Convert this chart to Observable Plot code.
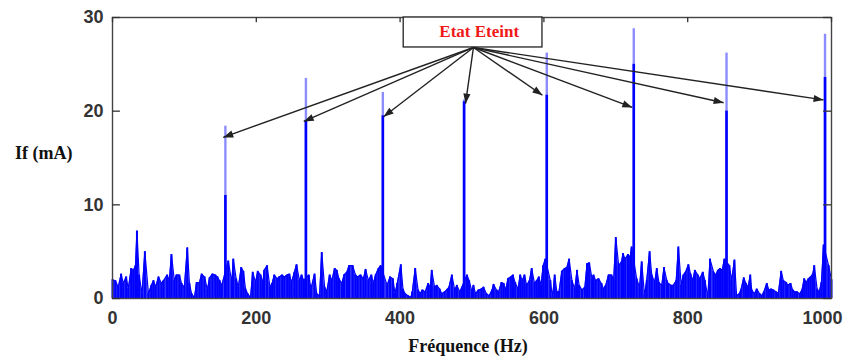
<!DOCTYPE html>
<html>
<head>
<meta charset="utf-8">
<script src="https://cdn.jsdelivr.net/npm/d3@7"></script>
<script src="https://cdn.jsdelivr.net/npm/@observablehq/plot@0.6"></script>
<style>
  html, body { margin: 0; padding: 0; background: #fff; }
  #chart svg { display: block; }
</style>
</head>
<body>
<div id="chart"></div>
<script>
// ---- Data ----
// Background spectrum (frequency in Hz, amplitude in mA)
const noiseFreq = [0,4,8,12,15,19,22,26,29,32,34,37,41,45,50,54,57,60,64,68,71,76,79,82,86,89,93,96,100,104,107,110,114,117,121,124,128,132,135,139,143,146,149,152,161,166,168,172,175,179,182,185,188,192,195,199,202,206,209,211,215,219,222,225,229,232,236,239,243,246,249,253,256,260,263,266,273,276,281,284,288,291,295,298,302,305,309,312,315,319,322,326,329,334,338,341,345,349,352,356,360,363,366,370,373,382,386,390,393,396,401,404,407,411,415,417,421,425,428,431,435,439,442,444,448,451,455,458,462,466,468,472,476,479,483,486,493,496,500,502,505,509,513,516,520,524,528,530,534,537,541,544,547,550,554,557,560,564,567,570,573,576,580,583,587,590,593,596,599,602,609,612,615,618,621,625,629,632,635,639,643,646,649,653,657,660,663,667,669,672,676,680,683,686,690,694,697,700,704,708,710,713,717,720,722,729,733,736,740,743,747,750,754,757,760,764,767,771,773,777,780,784,787,791,794,797,801,804,807,810,814,817,821,824,828,831,836,839,842,845,848,851,858,861,865,868,872,874,878,881,884,887,889,893,896,900,903,906,910,913,916,919,923,926,930,933,937,939,943,946,949,952,956,959,962,965,968,971,974,976,980,983,986,989,996,1000];
const noiseAmp  = [2.0,1.9,1.2,2.6,1.6,2.3,1.0,3.2,3.0,3.5,7.2,2.5,0.5,5.0,0.5,1.4,1.9,1.2,2.3,1.6,1.9,2.5,1.9,4.7,1.9,2.5,2.5,1.6,1.2,5.4,1.6,0.5,0.1,1.7,1.7,2.6,2.3,0.9,2.2,2.6,2.5,2.3,1.9,1.4,4.0,1.7,4.2,2.1,1.2,3.3,2.9,1.0,0.5,0.1,2.8,1.7,2.9,2.5,1.6,3.0,3.5,1.2,1.6,2.5,2.1,2.3,2.5,2.3,2.5,2.6,1.7,2.8,3.6,1.9,2.5,1.9,2.5,1.0,2.6,0.5,0.3,4.9,1.2,0.7,2.5,1.9,3.2,3.0,2.1,1.6,2.5,2.8,3.5,3.5,2.5,2.3,2.5,2.1,3.1,1.9,2.5,1.6,2.5,3.2,3.5,1.4,2.3,2.1,0.5,1.6,3.6,1.0,0.5,0.3,0.1,0.7,3.2,0.9,0.5,0.9,0.7,1.6,1.2,3.0,1.2,1.4,1.0,0.5,0.7,1.0,1.2,2.5,0.9,1.4,0.7,1.2,2.5,1.9,0.7,1.4,0.5,0.9,1.0,1.2,0.5,0.3,0.9,1.5,0.9,0.7,1.7,1.6,0.9,2.1,2.3,2.5,1.7,1.0,2.5,1.9,2.5,1.4,1.9,3.2,1.6,1.9,2.3,1.4,3.5,4.2,1.9,0.1,2.5,0.7,0.7,2.9,3.2,3.3,4.2,1.9,1.0,3.0,1.4,0.9,1.2,3.7,3.8,2.1,2.5,1.9,2.1,1.6,1.0,1.4,2.5,2.5,1.9,6.5,3.5,3.9,4.8,4.2,4.7,4.4,5.5,2.1,1.2,3.9,0.3,1.9,5.0,2.5,1.7,3.2,1.7,1.4,3.3,1.9,1.6,1.4,1.4,1.9,5.5,1.4,2.5,2.8,3.6,2.6,1.9,3.0,2.5,2.1,2.8,1.9,0.1,4.2,2.8,2.5,3.0,3.2,3.0,4.2,3.5,1.9,4.1,0.3,0.5,0.9,2.2,1.6,1.2,2.5,0.9,0.5,1.0,0.5,0.3,0.7,1.6,0.9,1.0,0.9,0.7,0.5,2.9,1.9,1.7,1.4,1.6,0.9,0.7,0.7,0.5,0.9,2.1,1.7,2.1,2.3,2.6,3.5,1.0,0.7,1.7,5.7,3.5,2.0];

// Harmonic peaks (frequency, maximum, dense core height)
const peakFreq = [157, 269, 376, 489, 604, 725, 854, 991];
const peakMax  = [18.4, 23.5, 22.0, 21.2, 26.2, 28.8, 26.2, 28.2];
const peakCore = [11.0, 19.0, 19.5, 21.0, 21.7, 25.0, 20.0, 23.6];

// Annotation "Etat Eteint": arrow tips and origin, label box
const arrowTipFreq = [154, 266, 377, 491, 598, 723, 850, 989];
const arrowTipAmp  = [17.2, 18.9, 19.4, 20.8, 21.7, 20.4, 20.9, 21.2];
const arrowOrigin  = [502, 26.8];
const boxFreq = [405, 598];
const boxAmp  = [26.8, 30];
const boxLabel = "Etat Eteint";
const boxLabelPos = [510, 28.5];

// Axes
const xTicks = [0, 200, 400, 600, 800, 1000];
const yTicks = [0, 10, 20, 30];
const xDomain = [0, 1000];
const yDomain = [0, 30];
const xTitle = "Fréquence (Hz)";
const yTitle = "If (mA)";

// ---- Build tables ----
const noise = noiseFreq.map((f, i) => ({f, a: noiseAmp[i]}));
const peaks = peakFreq.map((f, i) => ({f, max: peakMax[i], core: peakCore[i]}));
const arrows = arrowTipFreq.map((f, i) => ({x1: arrowOrigin[0], y1: arrowOrigin[1], x2: f, y2: arrowTipAmp[i]}));

const dims = {
  width: 845, height: 362,
  marginTop: 17, marginBottom: 64, marginLeft: 112, marginRight: 14,
  x: {domain: xDomain, label: null},
  y: {domain: yDomain, label: null}
};

// first pass: scales to orient arrow heads in screen space
const probe = Plot.plot({...dims, marks: [Plot.frame()]});
const sx = probe.scale("x"), sy = probe.scale("y");
arrows.forEach(d => {
  const dx = sx.apply(d.x2) - sx.apply(d.x1);
  const dy = sy.apply(d.y2) - sy.apply(d.y1);
  d.angle = Math.atan2(dx, -dy) * 180 / Math.PI;
});

const arrowHead = {
  draw(context) {
    context.moveTo(0, 0);
    context.lineTo(-3.6, 10);
    context.lineTo(3.6, 10);
    context.closePath();
  }
};

const serif = "'Liberation Serif', 'Times New Roman', serif";
const blue = "#0000ff";
const fmt = d => String(d);
const lastTick = xTicks[xTicks.length - 1];

const chart = Plot.plot({
  ...dims,
  style: {fontFamily: "'Liberation Sans', Arial, sans-serif", background: "#fff"},
  marks: [
    Plot.areaY(noise, {x: "f", y: "a", fill: blue, fillOpacity: 0.8}),
    Plot.lineY(noise, {x: "f", y: "a", stroke: blue, strokeWidth: 1.2}),
    Plot.ruleX(noise, {x: "f", y1: 0, y2: "a", stroke: blue, strokeWidth: 2}),
    Plot.ruleX(peaks, {x: "f", y1: 0, y2: "max", stroke: blue, strokeOpacity: 0.45, strokeWidth: 2.4}),
    Plot.ruleX(peaks, {x: "f", y1: 0, y2: "core", stroke: blue, strokeWidth: 2.6}),
    Plot.frame({stroke: "#444", strokeWidth: 1.4}),
    Plot.ruleX(xTicks, {x: d => d, y1: yDomain[1], y2: yDomain[1] - 0.55, stroke: "#333", strokeWidth: 1.3}),
    Plot.ruleY(yTicks, {y: d => d, x1: xDomain[0], x2: xDomain[0] + 11, stroke: "#333", strokeWidth: 1.3}),
    Plot.ruleY(yTicks, {y: d => d, x1: xDomain[1], x2: xDomain[1] - 11, stroke: "#333", strokeWidth: 1.3}),
    Plot.axisX({ticks: xTicks.slice(0, -1), tickFormat: fmt, tickSize: 0, tickPadding: 13, fontSize: 18, fontWeight: "bold", color: "#333", label: null}),
    Plot.axisX({ticks: [lastTick], tickFormat: fmt, tickSize: 0, tickPadding: 13, fontSize: 18, fontWeight: "bold", color: "#333", label: null, textAnchor: "end", dx: 11}),
    Plot.axisY({ticks: yTicks, tickFormat: fmt, tickSize: 0, tickPadding: 9, fontSize: 18, fontWeight: "bold", color: "#333", label: null}),
    Plot.rect([0], {x1: () => boxFreq[0], x2: () => boxFreq[1], y1: () => boxAmp[0], y2: () => boxAmp[1], fill: "white", stroke: "#222", strokeWidth: 1.3}),
    Plot.link(arrows, {x1: "x1", y1: "y1", x2: "x2", y2: "y2", stroke: "#222", strokeWidth: 1.4}),
    Plot.dot(arrows, {x: "x2", y: "y2", symbol: arrowHead, rotate: "angle", fill: "#222", stroke: "none", r: 4}),
    Plot.text([boxLabel], {x: () => boxLabelPos[0], y: () => boxLabelPos[1], text: d => d, fill: "#f01818", fontFamily: serif, fontWeight: "bold", fontSize: 17}),
    Plot.text([xTitle], {frameAnchor: "bottom", text: d => d, dx: -4, dy: 53, fontFamily: serif, fontWeight: "bold", fontSize: 18, fill: "#111"}),
    Plot.text([yTitle], {frameAnchor: "left", text: d => d, textAnchor: "end", dx: -40, dy: -5, fontFamily: serif, fontWeight: "bold", fontSize: 18, fill: "#111"})
  ]
});
document.getElementById("chart").append(chart);
</script>
</body>
</html>
